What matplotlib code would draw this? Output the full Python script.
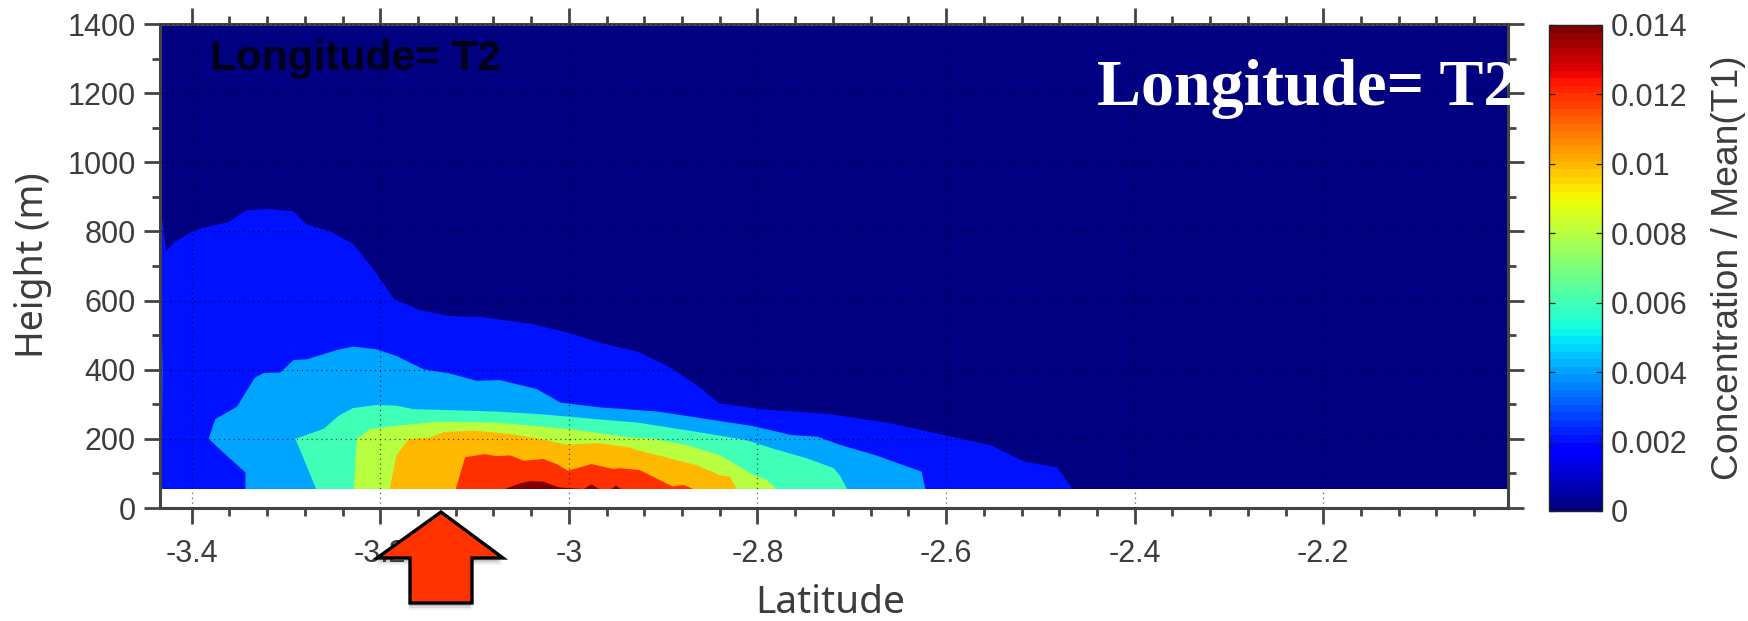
"""Cross-section of concentration against latitude and height, longitude T2."""

import matplotlib

matplotlib.use("Agg")

import matplotlib.pyplot as plt
import numpy as np
from matplotlib.cm import ScalarMappable
from matplotlib.colors import Normalize
from matplotlib.patches import Polygon

WIDTH, HEIGHT = 1748, 621

BASE_HEIGHT = 55.0
LAT_MIN, LAT_MAX = -3.4336, -2.0041
X_TICKS = [-3.4, -3.2, -3.0, -2.8, -2.6, -2.4, -2.2]
X_TICK_LABELS = ["-3.4", "-3.2", "-3", "-2.8", "-2.6", "-2.4", "-2.2"]
Y_TICKS = [0, 200, 400, 600, 800, 1000, 1200, 1400]
CBAR_TICKS = [0, 0.002, 0.004, 0.006, 0.008, 0.01, 0.012, 0.014]
CBAR_TICK_LABELS = ["0", "0.002", "0.004", "0.006", "0.008", "0.01", "0.012", "0.014"]

# top edge of each filled contour band, left to right
BLUE_LAT = [-3.4336, -3.4336, -3.432, -3.427, -3.419, -3.402, -3.389, -3.361, -3.343, -3.320, -3.292, -3.278,
            -3.253, -3.229, -3.207, -3.186, -3.158, -3.126, -3.091, -3.041, -3.0, -2.967, -2.927,
            -2.894, -2.862, -2.841, -2.797, -2.724, -2.663, -2.602, -2.553, -2.517, -2.482, -2.466]
BLUE_H = [55, 853, 853, 743, 767, 796, 810, 827, 860, 865, 858, 820,
          800, 764, 690, 606, 572, 555, 552, 533, 507, 478, 452,
          409, 351, 303, 286, 272, 247, 211, 182, 134, 117, 55]

AZURE_LAT = [-3.343, -3.343, -3.359, -3.382, -3.375, -3.352, -3.333, -3.324, -3.306, -3.292, -3.278,
             -3.246, -3.229, -3.204, -3.183, -3.154, -3.126, -3.098, -3.073, -3.034, -3.009, -2.967,
             -2.906, -2.865, -2.805, -2.764, -2.736, -2.712, -2.675, -2.626, -2.622]
AZURE_H = [55, 103, 142, 200, 257, 293, 377, 390, 392, 428, 430,
           457, 467, 459, 440, 401, 389, 368, 370, 344, 305, 291,
           279, 262, 237, 211, 206, 182, 153, 105, 55]
AZURE_STRIP_LAT = [-3.4336, -3.4336, -3.4318, -3.4310, -3.4318]
AZURE_STRIP_H = [130, 530, 520, 400, 140]

AQUA_LAT = [-3.268, -3.290, -3.260, -3.244, -3.229, -3.204, -3.183, -3.165, -3.126, -3.077, -3.034,
            -2.999, -2.967, -2.927, -2.866, -2.813, -2.785, -2.748, -2.719, -2.712, -2.705]
AQUA_H = [55, 200, 229, 267, 289, 298, 296, 286, 283, 279, 272,
          264, 256, 247, 221, 197, 173, 144, 115, 91, 55]

LIME_LAT = [-3.228, -3.225, -3.211, -3.183, -3.137, -3.077, -3.027, -2.999, -2.935,
            -2.911, -2.875, -2.840, -2.804, -2.790, -2.780]
LIME_H = [55, 200, 228, 238, 250, 247, 235, 228, 204,
          201, 182, 153, 95, 81, 55]

ORANGE_LAT = [-3.190, -3.183, -3.170, -3.147, -3.133, -3.101, -3.062, -3.031, -3.002, -2.970, -2.935,
              -2.928, -2.893, -2.865, -2.840, -2.829, -2.822]
ORANGE_H = [55, 151, 200, 204, 219, 224, 214, 200, 183, 188, 175,
            168, 144, 124, 95, 91, 55]

RED_LAT = [-3.120, -3.110, -3.098, -3.089, -3.077, -3.062, -3.048, -3.027, -3.013, -3.001, -2.976,
           -2.953, -2.946, -2.925, -2.911, -2.890, -2.879, -2.868]
RED_H = [55, 147, 152, 156, 150, 152, 137, 142, 127, 108, 127,
         113, 115, 110, 91, 62, 67, 55]

DARK_LAT = [-3.068, -3.052, -3.041, -3.027, -3.011, -2.984, -2.976, -2.968, -2.955, -2.950, -2.945]
DARK_H = [55, 71, 78, 76, 60, 55, 69, 55, 55, 65, 55]

BANDS = [
    (1, [(BLUE_LAT, BLUE_H)]),
    (2, [(AZURE_LAT, AZURE_H), (AZURE_STRIP_LAT, AZURE_STRIP_H)]),
    (3, [(AQUA_LAT, AQUA_H)]),
    (4, [(LIME_LAT, LIME_H)]),
    (5, [(ORANGE_LAT, ORANGE_H)]),
    (6, [(RED_LAT, RED_H)]),
    (7, [(DARK_LAT, DARK_H)]),
]

# pointer arrow in picture pixels
ARROW_X = [441, 503, 472, 472, 410, 410, 377]
ARROW_Y = [512, 558, 558, 603, 603, 558, 558]

INK = "#3c3c3c"
SPINE = "#444444"


def _to_figure(px, py):
    return np.column_stack([np.asarray(px) / WIDTH, 1.0 - np.asarray(py) / HEIGHT])


def main():
    plt.rcParams["font.family"] = ["Liberation Sans", "DejaVu Sans"]
    plt.rcParams["axes.unicode_minus"] = False

    figure = plt.figure(figsize=(WIDTH / 100, HEIGHT / 100), dpi=100)
    axis = figure.add_axes([160 / WIDTH, 1 - 508 / HEIGHT, 1348 / WIDTH, 484 / HEIGHT])
    jet = plt.get_cmap("jet")

    axis.axhspan(BASE_HEIGHT, 1400, color=jet(0.0), lw=0, zorder=1)
    for index, outlines in BANDS:
        for lats, heights in outlines:
            axis.fill(lats, heights, color=jet(index / 7), lw=0, zorder=1 + index * 0.1)

    axis.set_xlim(LAT_MIN, LAT_MAX)
    axis.set_ylim(0, 1400)
    axis.set_xticks(X_TICKS, X_TICK_LABELS)
    axis.set_yticks(Y_TICKS)
    axis.set_xticks(np.arange(-3.4, -2.0, 0.04).round(2), minor=True)
    axis.set_yticks(np.arange(100, 1400, 200), minor=True)
    axis.tick_params(which="major", direction="out", length=11.5, width=2.0, color=SPINE,
                     labelsize=22, labelcolor=INK, top=True, right=True, pad=6)
    axis.tick_params(which="minor", direction="out", length=5.6, width=2.0, color=SPINE,
                     top=True, right=True)
    axis.tick_params(axis="x", which="major", pad=11)
    axis.grid(True, which="major", color="black", alpha=0.7, linestyle=(0, (0.9, 3)), linewidth=0.9, zorder=2.5)
    axis.set_axisbelow(False)
    for spine in axis.spines.values():
        spine.set_color(SPINE)
        spine.set_linewidth(2.2)

    axis.set_xlabel("Latitude", family="Noto Sans", fontsize=28, color=INK)
    axis.xaxis.set_label_coords(0.497, -0.158)
    axis.set_ylabel("Height (m)", family="Noto Sans", fontsize=27, color=INK)
    axis.yaxis.set_label_coords(-0.080, 0.502)

    axis.text(0.0371, 0.905, "Longitude= T2", transform=axis.transAxes, fontsize=30.5,
              fontweight="bold", color="#000018", va="baseline", zorder=5)
    axis.text(0.695, 0.833, "Longitude= T2", transform=axis.transAxes, family="Liberation Serif",
              fontsize=47.5, fontweight="bold", color="white", va="baseline", zorder=6, clip_on=False)

    cbar_axis = figure.add_axes([1549 / WIDTH, 1 - 511 / HEIGHT, 53 / WIDTH, 486 / HEIGHT])
    colorbar = figure.colorbar(
        ScalarMappable(norm=Normalize(0, 0.014), cmap=plt.get_cmap("jet", 64)), cax=cbar_axis
    )
    colorbar.set_ticks(CBAR_TICKS, labels=CBAR_TICK_LABELS)
    colorbar.outline.set_edgecolor("#222222")
    colorbar.outline.set_linewidth(1.0)
    cbar_axis.tick_params(direction="in", length=4, width=0.9, color="#222222", labelsize=22,
                          labelcolor=INK, left=True, right=True, pad=6)
    figure.text(1728 / WIDTH, 1 - 268 / HEIGHT, "Concentration / Mean(T1)", rotation=90, fontsize=26.8,
                color=INK, ha="center", va="center")

    # soft shadow, then the arrow on top of the tick labels
    for offset, alpha in ((7, 0.08), (5, 0.14), (3, 0.2)):
        figure.add_artist(Polygon(_to_figure(np.array(ARROW_X) - 1, np.array(ARROW_Y) + offset),
                                  closed=True, facecolor="#555555", edgecolor="none", alpha=alpha,
                                  transform=figure.transFigure, zorder=4))
    figure.add_artist(Polygon(_to_figure(ARROW_X, ARROW_Y), closed=True, facecolor="#ff3300",
                              edgecolor="black", linewidth=2.4, joinstyle="miter",
                              transform=figure.transFigure, zorder=5))

    figure.savefig("out.png", dpi=100)
    plt.close(figure)


if __name__ == "__main__":
    main()
